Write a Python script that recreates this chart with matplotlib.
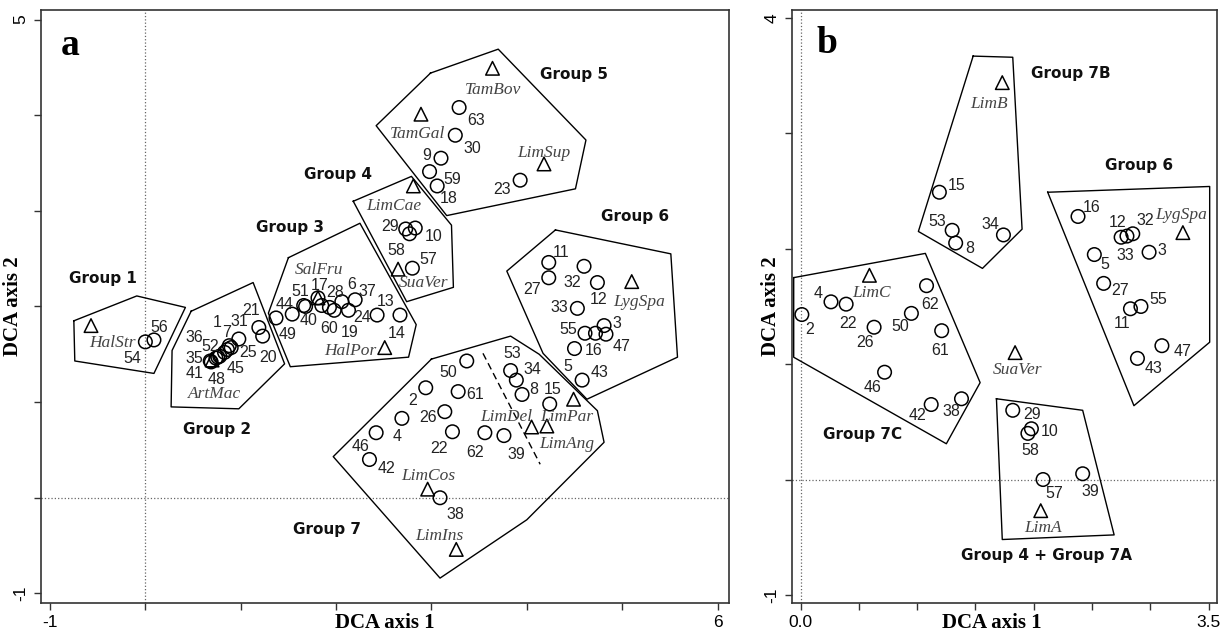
import numpy as np
import matplotlib.pyplot as plt

# ---------------- panel a : DCA of all sites ----------------
# sites: name -> (axis1, axis2)
a_sites = {
    "54": (0.00, 1.63), "56": (0.09, 1.65),
    "35": (0.68, 1.43), "41": (0.69, 1.42), "48": (0.74, 1.46), "36": (0.76, 1.47),
    "52": (0.78, 1.48), "45": (0.83, 1.52), "7": (0.86, 1.55), "1": (0.88, 1.59),
    "25": (0.90, 1.57), "31": (0.98, 1.66), "21": (1.19, 1.78), "20": (1.23, 1.69),
    "49": (1.37, 1.88), "44": (1.54, 1.92), "51": (1.66, 2.01), "40": (1.68, 2.00),
    "17": (1.81, 2.09), "60": (1.85, 2.01), "28": (1.93, 1.99), "19": (1.98, 1.96),
    "6": (2.06, 2.05), "24": (2.13, 1.96), "37": (2.20, 2.07), "13": (2.43, 1.91),
    "14": (2.67, 1.91),
    "29": (2.73, 2.81), "10": (2.83, 2.82), "58": (2.77, 2.76), "57": (2.80, 2.40),
    "63": (3.29, 4.08), "30": (3.25, 3.79), "9": (3.10, 3.55), "59": (2.98, 3.41),
    "18": (3.06, 3.26), "23": (3.93, 3.32),
    "11": (4.23, 2.46), "27": (4.23, 2.30), "32": (4.60, 2.42), "12": (4.74, 2.25),
    "33": (4.53, 1.98), "55": (4.61, 1.72), "5": (4.72, 1.72), "3": (4.81, 1.80),
    "47": (4.83, 1.71), "16": (4.50, 1.56), "43": (4.58, 1.23),
    "50": (3.37, 1.43), "2": (2.94, 1.15), "61": (3.28, 1.11), "26": (3.14, 0.90),
    "4": (2.69, 0.83), "46": (2.42, 0.68), "42": (2.35, 0.40), "22": (3.22, 0.69),
    "62": (3.56, 0.68), "39": (3.76, 0.65), "53": (3.83, 1.33), "34": (3.89, 1.23),
    "8": (3.95, 1.08), "15": (4.24, 0.98), "38": (3.09, 0.00),
}
# species (triangles)
a_species = {
    "HalStr": (-0.57, 1.80), "ArtMac": (0.70, 1.44), "SalFru": (1.81, 2.09),
    "HalPor": (2.51, 1.57), "LimCae": (2.81, 3.26), "SuaVer": (2.65, 2.39),
    "TamBov": (3.64, 4.49), "TamGal": (2.89, 4.01), "LimSup": (4.18, 3.49),
    "LygSpa": (5.10, 2.26), "LimDel": (4.05, 0.74), "LimAng": (4.21, 0.75),
    "LimPar": (4.49, 1.03), "LimCos": (2.96, 0.09), "LimIns": (3.26, -0.54),
}
a_hulls = [
    [(-0.75, 1.85), (-0.09, 2.11), (0.42, 1.99), (0.09, 1.30), (-0.74, 1.43)],
    [(0.48, 1.95), (1.13, 2.25), (1.46, 1.40), (0.98, 0.93), (0.27, 0.95), (0.28, 1.54)],
    [(1.50, 2.51), (2.25, 2.87), (2.84, 1.81), (2.76, 1.47), (1.52, 1.37), (1.29, 1.93)],
    [(2.18, 3.10), (2.79, 3.36), (3.21, 2.85), (3.23, 2.20), (2.74, 2.05)],
    [(2.99, 4.44), (3.70, 4.69), (4.62, 3.74), (4.51, 3.23), (3.16, 2.95), (2.42, 3.89)],
    [(4.30, 2.80), (5.51, 2.55), (5.58, 1.47), (4.63, 1.03), (4.17, 1.51), (3.79, 2.37)],
    [(3.00, 1.45), (3.83, 1.69), (4.13, 1.50), (4.74, 0.91), (4.81, 0.58),
     (4.00, -0.23), (3.09, -0.84), (1.97, 0.43)],
]
a_split = [(3.54, 1.51), (4.14, 0.35)]
a_groups = {
    "Group 1": (-0.44, 2.29), "Group 2": (0.75, 0.71), "Group 3": (1.52, 2.83),
    "Group 4": (2.02, 3.38), "Group 5": (4.49, 4.42), "Group 6": (5.14, 2.94),
    "Group 7": (1.90, -0.33),
}

# ---------------- panel b : DCA of groups 4, 6, 7 ----------------
b_sites = {
    "15": (1.19, 2.49), "53": (1.30, 2.16), "8": (1.33, 2.05), "34": (1.74, 2.12),
    "16": (2.38, 2.28), "12": (2.75, 2.10), "33": (2.80, 2.11), "32": (2.85, 2.13),
    "3": (2.99, 1.97), "5": (2.52, 1.95), "27": (2.60, 1.70), "11": (2.83, 1.48),
    "55": (2.92, 1.50), "47": (3.10, 1.16), "43": (2.89, 1.05),
    "4": (0.26, 1.54), "22": (0.39, 1.52), "2": (0.01, 1.43), "62": (1.08, 1.68),
    "50": (0.95, 1.44), "26": (0.63, 1.32), "61": (1.21, 1.29), "46": (0.72, 0.93),
    "42": (1.12, 0.65), "38": (1.38, 0.70),
    "29": (1.82, 0.60), "10": (1.98, 0.44), "58": (1.95, 0.40), "57": (2.08, 0.00),
    "39": (2.42, 0.05),
}
b_species = {
    "LimB": (1.73, 3.44), "LygSpa": (3.28, 2.14), "LimC": (0.59, 1.77),
    "SuaVer": (1.84, 1.10), "LimA": (2.06, -0.27),
}
b_hulls = [
    [(1.48, 3.67), (1.82, 3.66), (1.90, 2.17), (1.56, 1.83), (1.01, 2.15)],
    [(2.12, 2.49), (3.51, 2.54), (3.51, 1.19), (2.86, 0.64)],
    [(-0.06, 1.75), (1.07, 1.96), (1.54, 0.84), (1.25, 0.31), (-0.06, 1.06)],
    [(1.68, 0.70), (2.42, 0.60), (2.69, -0.48), (1.73, -0.52)],
]
b_groups = {
    "Group 7B": (2.32, 3.52), "Group 6": (2.90, 2.72), "Group 7C": (0.53, 0.39),
    "Group 4 + Group 7A": (2.11, -0.66),
}

# label offsets (pixels, y down) from marker to the label centre
a_off = {
    "54": (-13, 17), "56": (5, -12), "35": (-16, -2), "41": (-17, 12), "48": (1, 21),
    "36": (-24, -20), "52": (-10, -10), "45": (11, 16), "7": (-1, -17), "1": (-12, -23),
    "25": (17, 5), "31": (1, -17), "21": (-8, -17), "20": (5, 21), "49": (12, 17),
    "44": (-8, -10), "51": (-3, -14), "40": (3, 14), "17": (2, -12), "60": (7, 23),
    "28": (6, -15), "19": (15, 22), "6": (10, -17), "24": (14, 7), "37": (12, -8),
    "13": (9, -14), "14": (-3, 18), "29": (-16, -2), "10": (18, 8), "58": (-13, 17),
    "57": (16, -9), "63": (17, 13), "30": (17, 13), "9": (-14, -3), "59": (23, 8),
    "18": (12, 13), "23": (-18, 9), "11": (12, -10), "27": (-17, 12), "32": (-12, 16),
    "12": (1, 17), "33": (-18, -1), "55": (-17, -4), "5": (-28, 33), "3": (13, -2),
    "47": (16, 12), "16": (19, 2), "43": (17, -8), "50": (-18, 12), "2": (-13, 13),
    "61": (17, 3), "26": (-17, 6), "4": (-5, 18), "46": (-16, 14), "42": (17, 9),
    "22": (-13, 17), "62": (-10, 20), "39": (12, 19), "53": (2, -17), "34": (16, -11),
    "8": (12, -5), "15": (3, -15), "38": (15, 17),
    "HalStr": (21, 17), "ArtMac": (2, 34), "SalFru": (1, -28), "HalPor": (-34, 3),
    "LimCae": (-20, 20), "SuaVer": (25, 14), "TamBov": (1, 22), "TamGal": (-3, 20),
    "LimSup": (0, -11), "LygSpa": (7, 20), "LimDel": (-25, -10), "LimAng": (20, 18),
    "LimPar": (-7, 18), "LimCos": (1, -13), "LimIns": (-17, -13),
}
b_off = {
    "15": (17, -7), "53": (-15, -9), "8": (14, 5), "34": (-13, -10), "16": (14, -9),
    "12": (-4, -15), "33": (-2, 19), "32": (12, -13), "3": (13, -2), "5": (10, 10),
    "27": (16, 7), "11": (-8, 15), "55": (17, -7), "47": (21, 6), "43": (16, 10),
    "4": (-13, -8), "22": (2, 19), "2": (8, 15), "62": (4, 19), "50": (-11, 13),
    "26": (-9, 15), "61": (-2, 20), "46": (-12, 15), "42": (-14, 11), "38": (-10, 13),
    "29": (19, 4), "10": (18, 3), "58": (2, 17), "57": (11, 14), "39": (8, 18),
    "LimB": (-13, 21), "LygSpa": (-2, -18), "LimC": (2, 18), "SuaVer": (2, 17),
    "LimA": (2, 17),
}

NUM_FONT = "Liberation Sans"
SER_FONT = "Liberation Serif"


def draw_panel(ax, sites, species, hulls, groups, off, letter, letter_pos):
    for hull in hulls:
        pts = np.array(hull + [hull[0]])
        ax.plot(pts[:, 0], pts[:, 1], color="black", lw=1.0, zorder=2)
    sx = [v[0] for v in sites.values()]
    sy = [v[1] for v in sites.values()]
    ax.scatter(sx, sy, s=95, facecolors="none", edgecolors="black", linewidths=1.1, zorder=3)
    tx = [v[0] for v in species.values()]
    ty = [v[1] for v in species.values()]
    ax.scatter(tx, ty, s=95, marker="^", facecolors="none", edgecolors="black",
               linewidths=1.1, zorder=3)
    for name, (x, y) in sites.items():
        dx, dy = off[name]
        ax.annotate(name, (x, y), xytext=(dx, -dy), textcoords="offset pixels",
                    ha="center", va="center", fontsize=11.5, family=NUM_FONT, color="#222222")
    for name, (x, y) in species.items():
        dx, dy = off[name]
        ax.annotate(name, (x, y), xytext=(dx, -dy), textcoords="offset pixels",
                    ha="center", va="center", fontsize=12.5, family=SER_FONT,
                    style="italic", color="#444444")
    for name, (x, y) in groups.items():
        ax.text(x, y, name, ha="center", va="center", fontsize=11, fontweight="bold",
                family="DejaVu Sans", color="#111111")
    ax.axhline(0, color="#666666", lw=0.9, ls=":", zorder=1)
    ax.axvline(0, color="#666666", lw=0.9, ls=":", zorder=1)
    ax.text(letter_pos[0], letter_pos[1], letter, transform=ax.transAxes, fontsize=27,
            fontweight="bold", family=SER_FONT, va="center", ha="center")
    for sp in ax.spines.values():
        sp.set_linewidth(1.2)
        sp.set_color("#333333")
    ax.tick_params(direction="out", length=5, width=1, color="#333333", pad=4)
    ax.set_xlabel("DCA axis 1", family=SER_FONT, fontweight="bold", fontsize=15)
    ax.set_ylabel("DCA axis 2", family=SER_FONT, fontweight="bold", fontsize=15)


fig = plt.figure(figsize=(12.25, 6.38), dpi=100)
ax_a = fig.add_axes([0.0335, 0.0549, 0.5616, 0.9295])
ax_b = fig.add_axes([0.6463, 0.0549, 0.3469, 0.9295])

draw_panel(ax_a, a_sites, a_species, a_hulls, a_groups, a_off, "a", (0.043, 0.94))
ax_a.plot([p[0] for p in a_split], [p[1] for p in a_split], color="black", lw=1.0, ls=(0, (5, 3)))
draw_panel(ax_b, b_sites, b_species, b_hulls, b_groups, b_off, "b", (0.083, 0.943))

ax_a.set_xlim(-1.094, 6.12)
ax_a.set_ylim(-1.10, 5.10)
ax_a.set_xticks(range(-1, 7))
ax_a.set_xticklabels(["-1", "", "", "", "", "", "", "6"], family=NUM_FONT, fontsize=12.5)
ax_a.set_yticks(range(-1, 6))
ax_a.set_yticklabels(["-1", "", "", "", "", "", "5"], family=NUM_FONT, fontsize=12.5,
                     rotation=90, va="center")

ax_b.set_xlim(-0.077, 3.57)
ax_b.set_ylim(-1.07, 4.07)
ax_b.set_xticks(np.arange(0, 3.51, 0.5))
ax_b.set_xticklabels(["0.0", "", "", "", "", "", "", "3.5"], family=NUM_FONT, fontsize=12.5)
ax_b.set_yticks(range(-1, 5))
ax_b.set_yticklabels(["-1", "", "", "", "", "4"], family=NUM_FONT, fontsize=12.5,
                     rotation=90, va="center")

ax_a.xaxis.set_label_coords(0.5, -0.017)
ax_a.yaxis.set_label_coords(-0.026, 0.5)
ax_b.xaxis.set_label_coords(0.47, -0.017)
ax_b.yaxis.set_label_coords(-0.026, 0.5)

fig.savefig("out.png", dpi=100)
